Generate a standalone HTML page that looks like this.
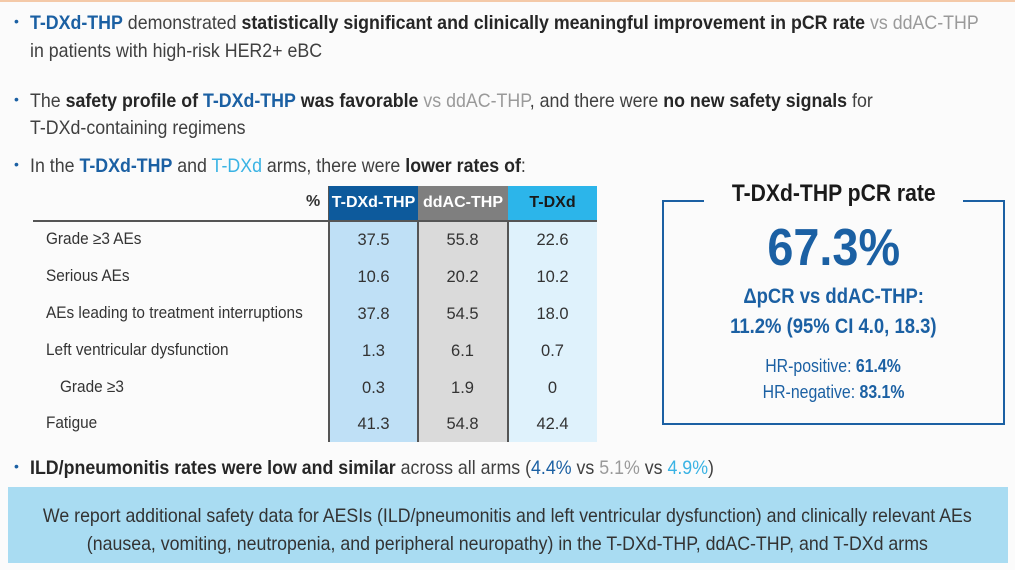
<!DOCTYPE html>
<html><head><meta charset="utf-8"><style>
body{margin:0;width:1015px;height:570px;background:#fbfbfb;position:relative;overflow:hidden;font-family:"Liberation Sans",Arial,sans-serif;color:#404040}
.t{position:absolute;white-space:nowrap;font-size:19.5px;transform:scaleX(.912);transform-origin:left center;line-height:22px}
b{color:#262626}
.d{color:#1b60a3}.l{color:#3ab3e4}.g{color:#9a9a9a}
.d b,b.d{color:#1b60a3}
.bul{position:absolute;left:14px;font-size:14px;color:#1b60a3}
.col{position:absolute;top:186px;height:256px}
.hd{position:absolute;top:186px;height:34px;color:#fff;font-weight:bold;font-size:16px;line-height:34px;text-align:center}
.row{position:absolute;left:46px;font-size:16.5px;transform:scaleX(.93);transform-origin:left center;white-space:nowrap;color:#333}
.v{position:absolute;width:89px;text-align:center;font-size:16.5px;color:#333}
.bx{position:absolute;text-align:center;left:662px;width:343px;white-space:nowrap}
</style></head><body>
<div style="position:absolute;left:0;top:0;width:1015px;height:2px;background:#f4c9a8"></div>
<div class="bul" style="top:13px">•</div>
<div class="t" style="left:30px;top:12px"><b class="d">T-DXd-THP</b> demonstrated <b>statistically significant and clinically meaningful improvement in pCR rate</b> <span class="g">vs ddAC-THP</span></div>
<div class="t" style="left:30px;top:40px">in patients with high-risk HER2+ eBC</div>
<div class="bul" style="top:91px">•</div>
<div class="t" style="left:30px;top:90px">The <b>safety profile of</b> <b class="d">T-DXd-THP</b> <b>was favorable</b> <span class="g">vs ddAC-THP</span>, and there were <b>no new safety signals</b> for</div>
<div class="t" style="left:30px;top:117px">T-DXd-containing regimens</div>
<div class="bul" style="top:156px">•</div>
<div class="t" style="left:30px;top:155px">In the <b class="d">T-DXd-THP</b> and <span class="l">T-DXd</span> arms, there were <b>lower rates of</b>:</div>

<div class="col" style="left:329px;width:89px;background:#bfe0f6"></div>
<div class="col" style="left:418px;width:90px;background:#dadada"></div>
<div class="col" style="left:508px;width:89px;background:#dff2fc"></div>
<div style="position:absolute;left:417px;top:186px;width:2px;height:256px;background:#555"></div>
<div style="position:absolute;left:507px;top:186px;width:2px;height:256px;background:#555"></div>
<div style="position:absolute;left:328px;top:186px;width:2px;height:256px;background:#555"></div>
<div class="hd" style="left:329px;width:89px;background:#0d5a9c">T-DXd-THP</div>
<div class="hd" style="left:418px;width:90px;background:#7f7f7f">ddAC-THP</div>
<div class="hd" style="left:508px;width:89px;background:#2cb5ea;color:#1a1a1a">T-DXd</div>
<div style="position:absolute;left:306px;top:193px;font-size:16px;font-weight:bold;color:#333">%</div>
<div style="position:absolute;left:33px;top:220px;width:564px;height:2px;background:#555"></div>

<div class="row" style="top:230px">Grade ≥3 AEs</div>
<div class="row" style="top:267px">Serious AEs</div>
<div class="row" style="top:304px">AEs leading to treatment interruptions</div>
<div class="row" style="top:341px">Left ventricular dysfunction</div>
<div class="row" style="top:378px;left:60px">Grade ≥3</div>
<div class="row" style="top:414px">Fatigue</div>

<div class="v" style="left:329px;top:231px">37.5</div><div class="v" style="left:418px;top:231px">55.8</div><div class="v" style="left:508px;top:231px">22.6</div>
<div class="v" style="left:329px;top:268px">10.6</div><div class="v" style="left:418px;top:268px">20.2</div><div class="v" style="left:508px;top:268px">10.2</div>
<div class="v" style="left:329px;top:305px">37.8</div><div class="v" style="left:418px;top:305px">54.5</div><div class="v" style="left:508px;top:305px">18.0</div>
<div class="v" style="left:329px;top:342px">1.3</div><div class="v" style="left:418px;top:342px">6.1</div><div class="v" style="left:508px;top:342px">0.7</div>
<div class="v" style="left:329px;top:379px">0.3</div><div class="v" style="left:418px;top:379px">1.9</div><div class="v" style="left:508px;top:379px">0</div>
<div class="v" style="left:329px;top:415px">41.3</div><div class="v" style="left:418px;top:415px">54.8</div><div class="v" style="left:508px;top:415px">42.4</div>

<div style="position:absolute;left:662px;top:200px;width:339px;height:223px;border:2px solid #1b60a3;border-top:none"></div>
<div style="position:absolute;left:662px;top:200px;width:42px;height:2px;background:#1b60a3"></div>
<div style="position:absolute;left:963px;top:200px;width:42px;height:2px;background:#1b60a3"></div>
<div class="bx" style="top:180px;font-size:24px;font-weight:bold;color:#1a1a1a"><span style="display:inline-block;transform:scaleX(.88)">T-DXd-THP pCR rate</span></div>
<div class="bx" style="top:218px;font-size:52px;font-weight:bold;color:#1b60a3"><span style="display:inline-block;transform:scaleX(.9)">67.3%</span></div>
<div class="bx" style="top:285px;font-size:21px;font-weight:bold;color:#1b60a3"><span style="display:inline-block;transform:scaleX(.88)">ΔpCR vs ddAC-THP:</span></div>
<div class="bx" style="top:315px;font-size:21px;font-weight:bold;color:#1b60a3"><span style="display:inline-block;transform:scaleX(.88)">11.2% (95% CI 4.0, 18.3)</span></div>
<div class="bx" style="top:356px;font-size:18px;color:#1b60a3"><span style="display:inline-block;transform:scaleX(.88)">HR-positive: <b class="d">61.4%</b></span></div>
<div class="bx" style="top:382px;font-size:18px;color:#1b60a3"><span style="display:inline-block;transform:scaleX(.88)">HR-negative: <b class="d">83.1%</b></span></div>

<div class="bul" style="top:458px">•</div>
<div class="t" style="left:30px;top:457px"><b>ILD/pneumonitis rates were low and similar</b> across all arms (<span class="d">4.4%</span> vs <span class="g">5.1%</span> vs <span class="l">4.9%</span>)</div>
<div style="position:absolute;left:8px;top:487px;width:1000px;height:76px;background:#a9dcf2"></div>
<div style="position:absolute;left:-93px;top:502px;width:1200px;text-align:center;font-size:19.5px;line-height:28px;color:#333"><span style="display:inline-block;transform:scaleX(.91);white-space:nowrap">We report additional safety data for AESIs (ILD/pneumonitis and left ventricular dysfunction) and clinically relevant AEs<br>(nausea, vomiting, neutropenia, and peripheral neuropathy) in the T-DXd-THP, ddAC-THP, and T-DXd arms</span></div>
</body></html>
